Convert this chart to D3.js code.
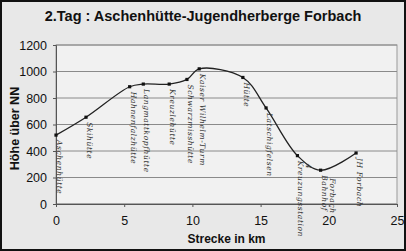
<!DOCTYPE html>
<html>
<head>
<meta charset="utf-8">
<script src="https://cdn.jsdelivr.net/npm/d3@7"></script>
<style>
  body { margin: 0; background: #fff; }
  svg { display: block; }
</style>
</head>
<body>
<svg id="chart"></svg>
<script>
// route profile: distance in km, altitude in m
const km = [0, 2.2, 5.4, 6.4, 8.3, 9.6, 10.5, 13.7, 15.4, 17.7, 19.4, 22.0];
const hoehe = [520, 655, 885, 905, 905, 940, 1020, 955, 725, 365, 255, 385];
const orte = [
  ['Aschenhütte'], ['Skihütte'], ['Hahnenfalzhütte'], ['Langmattkopfhütte'],
  ['Kreuzlehütte'], ['Schwarzmisshütte'], ['Kaiser Wilhelm-Turm'], ['Hütte'],
  ['Latschigfelsen'], ['Kreuzungsstation', '4'], ['Bahnhof', 'Forbach'], ['JH Forbach']
];
const xTicks = [0, 5, 10, 15, 20, 25];
const yTicks = [0, 200, 400, 600, 800, 1000, 1200];

const W = 406, H = 251;
const margin = { top: 45, right: 9, bottom: 47, left: 56 };
const width = W - margin.left - margin.right;
const height = H - margin.top - margin.bottom;

const svg = d3.select('#chart').attr('width', W).attr('height', H);

// background + frame
svg.append('rect').attr('x', 1).attr('y', 1).attr('width', W - 2).attr('height', H - 2)
  .attr('fill', '#e8e8e8').attr('stroke', '#111').attr('stroke-width', 2);

svg.append('text')
  .attr('x', W / 2).attr('y', 21)
  .attr('text-anchor', 'middle')
  .style('font', 'bold 14.5px "Liberation Sans", Arial, sans-serif')
  .attr('fill', '#111')
  .text('2.Tag : Aschenhütte-Jugendherberge Forbach');

const g = svg.append('g').attr('transform', `translate(${margin.left},${margin.top})`);

const x = d3.scaleLinear().domain([0, 25]).range([0, width]);
const y = d3.scaleLinear().domain([0, 1200]).range([height, 0]);

g.append('rect').attr('width', width).attr('height', height)
  .attr('fill', '#f1f1f1').attr('stroke', '#999').attr('stroke-width', 1);

// grid
g.selectAll('.grid').data(yTicks).enter().append('line')
  .attr('x1', 0).attr('x2', width)
  .attr('y1', d => y(d)).attr('y2', d => y(d))
  .attr('stroke', '#8a8a8a').attr('stroke-width', 1);

// axes
const xAxis = g.append('g').attr('transform', `translate(0,${height})`)
  .call(d3.axisBottom(x).tickValues(xTicks).tickSize(3).tickPadding(9).tickFormat(d3.format('d')));
const yAxis = g.append('g')
  .call(d3.axisLeft(y).tickValues(yTicks).tickSize(3).tickPadding(6).tickFormat(d3.format('d')));
[xAxis, yAxis].forEach(a => {
  a.selectAll('path, line').attr('stroke', '#555');
  a.selectAll('text').style('font', '12.5px "Liberation Sans", Arial, sans-serif').attr('fill', '#111');
});

svg.append('text')
  .attr('transform', `translate(19,${margin.top + height / 2 + 4}) rotate(-90)`)
  .attr('text-anchor', 'middle')
  .style('font', 'bold 12.5px "Liberation Sans", Arial, sans-serif')
  .attr('fill', '#111')
  .text('Höhe über NN');

svg.append('text')
  .attr('x', margin.left + width / 2).attr('y', 243)
  .attr('text-anchor', 'middle')
  .style('font', 'bold 12px "Liberation Sans", Arial, sans-serif')
  .attr('fill', '#111')
  .text('Strecke in km');

// profile line
const pts = km.map((d, i) => [d, hoehe[i]]);
const line = d3.line()
  .x(d => x(d[0]))
  .y(d => y(d[1]))
  .curve(d3.curveCatmullRom.alpha(0.5));

g.append('path').datum(pts)
  .attr('fill', 'none').attr('stroke', '#222').attr('stroke-width', 1.3)
  .attr('d', line);

g.selectAll('.pt').data(pts).enter().append('rect')
  .attr('x', d => x(d[0]) - 1.6).attr('y', d => y(d[1]) - 1.6)
  .attr('width', 3.2).attr('height', 3.2).attr('fill', '#111');

// hand-written place names, rotated
const lbl = g.selectAll('.lbl').data(pts).enter().append('g')
  .attr('transform', d => `translate(${x(d[0]) + 1},${y(d[1]) + 5}) rotate(90)`);
lbl.each(function (d, i) {
  orte[i].forEach((t, j) => {
    d3.select(this).append('text')
      .attr('x', j * 3).attr('y', -j * 8)
      .style('font', 'italic 7.5px "DejaVu Serif", serif')
      .style('letter-spacing', '0.6px')
      .attr('fill', '#333')
      .text(t);
  });
});
</script>
</body>
</html>
